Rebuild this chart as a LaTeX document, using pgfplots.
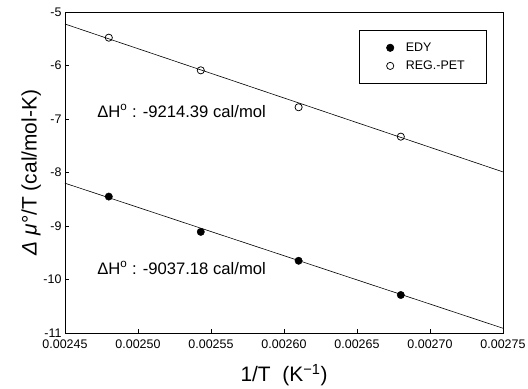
\documentclass[border=0pt]{standalone}
\usepackage{pgfplots}
\pgfplotsset{compat=1.18}
\usepackage{fontspec}
\setmainfont{Liberation Sans}
\begin{document}
\begin{tikzpicture}
\useasboundingbox (0,0) rectangle (528bp,389bp);
\begin{axis}[
  at={(65bp,56bp)}, anchor=south west,
  scale only axis, width=438bp, height=321bp,
  xmin=0.00245, xmax=0.00275, ymin=-11, ymax=-5,
  xtick={0.00245,0.00250,0.00255,0.00260,0.00265,0.00270,0.00275},
  ytick={-11,-10,-9,-8,-7,-6,-5},
  scaled x ticks=false,
  xticklabel style={/pgf/number format/fixed,/pgf/number format/precision=5,/pgf/number format/fixed zerofill, yshift=-3bp},
  /pgf/number format/assume math mode=true,
  tick label style={font=\fontsize{12.5}{14}\selectfont},
  tick align=inside, major tick length=4bp,
  xtick pos=bottom, ytick pos=left,
  axis line style={line width=0.7bp},
  tick style={line width=0.6bp, black},
  xlabel={1/T\ \ (K\textsuperscript{−1})},
  ylabel={{\itshape Δ\ μ}°/T (cal/mol-K)},
  label style={font=\fontsize{21}{24}\selectfont},
  xlabel style={at={(axis description cs:0.5,-0.131)}, anchor=center},
  ylabel style={at={(axis description cs:-0.077,0.5)}, anchor=center, rotate=0},
  legend image code/.code={\path[draw=none,fill=none] (-11bp,-3bp) rectangle (3.3bp,3bp); \draw[#1] plot coordinates {(0bp,0bp)};},
  legend style={at={(axis description cs:0.9635,0.944)}, anchor=north east,
    draw=black, line width=0.6bp, inner xsep=20bp, inner ysep=10.5bp,
    font=\fontsize{12.5}{13}\selectfont, row sep=4bp,
    /tikz/every odd column/.append style={column sep=10bp}},
  legend cell align=left,
  clip=false,
]
\addplot[only marks, mark=*, mark size=3.7bp, mark options={fill=black, draw=black}] coordinates {
(0.002480,-8.45) (0.002543,-9.11) (0.002610,-9.65) (0.002680,-10.29)};
\addlegendentry{EDY}
\addplot[only marks, mark=o, mark size=3.6bp, mark options={fill=white, draw=black, line width=0.75bp}] coordinates {
(0.002480,-5.48) (0.002543,-6.09) (0.002610,-6.78) (0.002680,-7.33)};
\addlegendentry{REG.-PET}
\addplot[black, line width=0.6bp, forget plot] coordinates {(0.00245,-5.225) (0.00275,-7.989)};
\addplot[black, line width=0.6bp, forget plot] coordinates {(0.00245,-8.20) (0.00275,-10.911)};
\node[anchor=west, inner sep=0pt, font=\fontsize{16.7}{18}\selectfont] at (axis cs:0.002472,-6.85) {ΔH\textsuperscript{o} : -9214.39 cal/mol};
\node[anchor=west, inner sep=0pt, font=\fontsize{16.7}{18}\selectfont] at (axis cs:0.002472,-9.785) {ΔH\textsuperscript{o} : -9037.18 cal/mol};
\end{axis}
\end{tikzpicture}
\end{document}
